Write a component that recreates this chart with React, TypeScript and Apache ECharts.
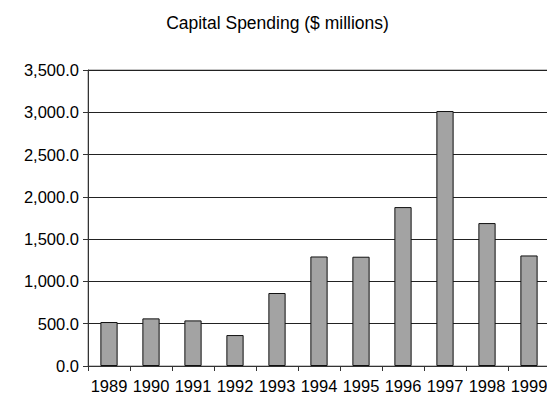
import React, { useEffect, useRef } from "react";
import * as echarts from "echarts";

const title = "Capital Spending ($ millions)";
const years = ["1989", "1990", "1991", "1992", "1993", "1994", "1995", "1996", "1997", "1998", "1999"];
const spending = [520, 563, 539, 366, 863, 1295, 1292, 1879, 3015, 1690, 1307];

export default function App() {
  const ref = useRef<HTMLDivElement>(null);
  useEffect(() => {
    if (!ref.current) return;
    const chart = echarts.init(ref.current, null, { renderer: "svg" });
    const font = "Liberation Sans, Arial, sans-serif";
    chart.setOption({
      animation: false,
      backgroundColor: "#ffffff",
      title: {
        text: title,
        left: "center",
        top: 9,
        textStyle: { fontFamily: font, fontSize: 17.5, fontWeight: "normal", color: "#000" },
      },
      grid: {
        left: 88,
        top: 70,
        width: 462,
        height: 296,
        show: true,
        borderColor: "#8a8a8a",
        borderWidth: 1,
        containLabel: false,
      },
      xAxis: {
        type: "category",
        data: years,
        boundaryGap: true,
        axisLine: { show: true, lineStyle: { color: "#333", width: 1 } },
        axisTick: { show: true, length: 5, inside: false, lineStyle: { color: "#333" } },
        axisLabel: { fontFamily: font, fontSize: 16.5, color: "#000", margin: 11, interval: 0 },
        splitLine: { show: false },
      },
      yAxis: {
        type: "value",
        min: 0,
        max: 3500,
        interval: 500,
        axisLine: { show: true, lineStyle: { color: "#333", width: 1 } },
        axisTick: { show: true, length: 5, lineStyle: { color: "#333" } },
        axisLabel: {
          fontFamily: font,
          fontSize: 16.5,
          color: "#000",
          margin: 9,
          formatter: (v: number) =>
            v.toLocaleString("en-US", { minimumFractionDigits: 1, maximumFractionDigits: 1 }),
        },
        splitLine: { show: true, lineStyle: { color: "#222", width: 1 } },
      },
      series: [
        {
          type: "bar",
          data: spending,
          barWidth: "41%",
          itemStyle: { color: "#a3a3a3", borderColor: "#111", borderWidth: 1 },
        },
      ],
    });
    return () => chart.dispose();
  }, []);
  return <div ref={ref} style={{ width: 555, height: 403, marginLeft: -8, marginTop: -8 }} />;
}
